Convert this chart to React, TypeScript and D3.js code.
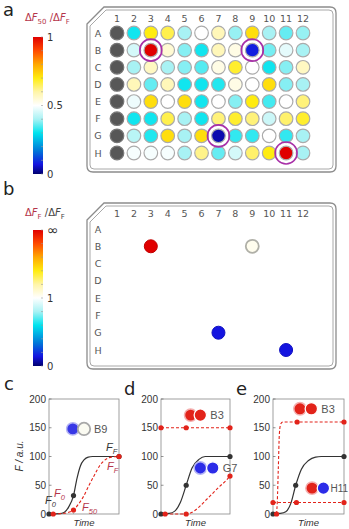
import React from 'react';
import * as d3 from 'd3';

// ---------------- DATA ----------------
const ROWS = ['A', 'B', 'C', 'D', 'E', 'F', 'G', 'H'];
const COLS = ['1', '2', '3', '4', '5', '6', '7', '8', '9', '10', '11', '12'];

// ΔF50/ΔFF per well (col 1 = control, null)
const rowA = [null, 0.31, 0.7, 0.66, 0.4, 0.5, 0.58, 0.39, 0.72, 0.4, 0.36, 0.39];
const rowB = [null, 0.45, 1.0, 0.55, 0.38, 0.31, 0.58, 0.53, 0.08, 0.37, 0.47, 0.4];
const rowC = [null, 0.4, 0.57, 0.4, 0.38, 0.35, 0.53, 0.68, 0.5, 0.31, 0.38, 0.57];
const rowD = [null, 0.58, 0.36, 0.58, 0.31, 0.31, 0.32, 0.53, 0.5, 0.72, 0.38, 0.4];
const rowE = [null, 0.48, 0.72, 0.5, 0.72, 0.31, 0.5, 0.38, 0.7, 0.34, 0.5, 0.63];
const rowF = [null, 0.31, 0.31, 0.66, 0.4, 0.31, 0.63, 0.68, 0.63, 0.44, 0.64, 0.68];
const rowG = [null, 0.42, 0.32, 0.72, 0.4, 0.72, 0.04, 0.33, 0.33, 0.5, 0.33, 0.4];
const rowH = [null, 0.49, 0.49, 0.49, 0.4, 0.62, 0.36, 0.45, 0.64, 0.7, 1.0, 0.4];
const plateA = [rowA, rowB, rowC, rowD, rowE, rowF, rowG, rowH];

const ringWells = ['B3', 'B9', 'G7', 'H11'];
const plateBWells = ['B3', 'B9', 'G7', 'H11'];
const plateBValues = [1.0, 0.52, 0.07, 0.07]; // position on ΔFF/ΔFF bar

const cmapPos = [0, 0.07, 0.17, 0.3, 0.4, 0.5, 0.6, 0.7, 0.8, 0.9, 1];
const cmapCol = ['#00006e', '#1414e0', '#0078d8', '#00e4ee', '#a8f2f4', '#ffffff', '#fff5a8', '#ffec10', '#ffa800', '#ff4a00', '#e00000'];

const barATickPos = [0, 0.5, 1];
const barATickLabels = ['0', '0.5', '1'];
const barBTickPos = [0, 0.5, 1];
const barBTickLabels = ['0', '1', '∞'];

const yTickValues = [0, 50, 100, 150, 200];

// panel c
const cBlackT = [0, 0.15, 0.22, 0.28, 0.35, 0.4, 0.45, 0.5, 0.56, 0.62, 1];
const cBlackF = [0, 0.5, 3, 12, 32, 62, 84, 94, 99, 100, 100];
const cRedT = [0.06, 0.2, 0.28, 0.35, 0.42, 0.5, 0.56, 0.65, 0.73, 0.81, 0.9, 1];
const cRedF = [0, 1, 3, 7, 17, 32, 47, 68, 85, 95, 99, 100];
const cBlackDotT = [0, 0.35, 1];
const cBlackDotF = [0, 32, 100];
const cRedDotT = [0.06, 0.35, 1];
const cRedDotF = [0, 7, 100];

// panel d
const dBlackT = [0, 0.12, 0.2, 0.28, 0.365, 0.45, 0.55, 0.64, 1];
const dBlackF = [0, 1, 5, 20, 50, 80, 95, 100, 100];
const dRedT = [0.06, 0.365, 0.45, 0.55, 0.65, 0.75, 0.85, 0.95, 1];
const dRedF = [0, 0, 3, 12, 24, 36, 48, 59, 66];
const dRedFlatT = [0, 1];
const dRedFlatF = [150, 150];
const dBlackDotT = [0, 0.365, 1];
const dBlackDotF = [0, 50, 100];
const dRedDotT = [0.06, 0.365, 1, 0, 0.365, 1];
const dRedDotF = [0, 0, 66, 150, 150, 150];

// panel e
const eBlackT = [0, 0.1, 0.18, 0.25, 0.32, 0.4, 0.5, 0.6, 0.68, 1];
const eBlackF = [0, 1, 4, 18, 50, 78, 93, 99, 100, 100];
const eRedT = [0.05, 0.06, 0.075, 0.09, 0.11, 0.14, 0.34, 1];
const eRedF = [0, 20, 80, 140, 157, 160, 160, 160];
const eRedFlatT = [0, 1];
const eRedFlatF = [20, 20];
const eBlackDotT = [0, 0.32, 1];
const eBlackDotF = [0, 50, 100];
const eRedDotT = [0.05, 0.34, 1, 0, 0.33, 1];
const eRedDotF = [0, 160, 160, 20, 20, 20];

// ---------------- HELPERS ----------------
const cmap = d3.scaleLinear<string>().domain(cmapPos).range(cmapCol).interpolate(d3.interpolateRgb);
const zip = (a: number[], b: number[]) => a.map((v, i) => [v, b[i]] as [number, number]);

function framePath(x0: number, y0: number, x1: number, y1: number, ch: number, r: number) {
  return `M${x0},${y0 + ch} L${x0 + ch},${y0} L${x1 - r},${y0} Q${x1},${y0} ${x1},${y0 + r} L${x1},${y1 - r} Q${x1},${y1} ${x1 - r},${y1} L${x0 + r},${y1} Q${x0},${y1} ${x0},${y1 - r} Z`;
}

const RED = '#e2231a';
const DARK = '#333';
const LBL = '#b5354a';
const SANS = 'Liberation Sans, Arial, sans-serif';
const DJV = 'DejaVu Sans, Verdana, sans-serif';

function Frame({ x0, y0, x1, y1 }: any) {
  return (
    <g fill="none">
      <path d={framePath(x0, y0, x1, y1, 17, 6)} stroke="#8c8c8c" strokeWidth={1.3} />
      <path d={framePath(x0 + 3, y0 + 3, x1 - 3, y1 - 3, 16, 4)} stroke="#a8a8a8" strokeWidth={1} />
    </g>
  );
}

function PlateLabels({ xs, ys, colY }: any) {
  return (
    <g fontFamily={DJV} fontSize={9.5} fill="#555">
      {COLS.map((c) => (
        <text key={c} x={xs(c)} y={colY} textAnchor="middle" dominantBaseline="central">{c}</text>
      ))}
      {ROWS.map((r) => (
        <text key={r} x={98} y={ys(r)} textAnchor="middle" dominantBaseline="central">{r}</text>
      ))}
    </g>
  );
}

function ColorBar({ id, y0, y1, tickPos, tickLabels }: any) {
  const ys = d3.scaleLinear().domain([0, 1]).range([y1, y0]);
  const minor = d3.range(0, 1.0001, 0.1);
  return (
    <g>
      <defs>
        <linearGradient id={id} x1="0" y1="1" x2="0" y2="0">
          {cmapPos.map((p, i) => (
            <stop key={i} offset={p} stopColor={cmapCol[i]} />
          ))}
        </linearGradient>
      </defs>
      <rect x={33} y={y0} width={10} height={y1 - y0} fill={`url(#${id})`} />
      {minor.map((m, i) => (
        <line key={i} x1={41} x2={43} y1={ys(m)} y2={ys(m)} stroke="#999" strokeWidth={0.6} />
      ))}
      {tickPos.map((p: number, i: number) => (
        <text key={i} x={47} y={ys(p)} fontFamily={DJV} fontSize={tickLabels[i] === '∞' ? 14 : 10} fill="#333" dominantBaseline="central">{tickLabels[i]}</text>
      ))}
    </g>
  );
}

function LegendPair({ xs, ys, t1, t2, f, c1, c2, label, white, fs = 11, gap = 10 }: any) {
  const r = 6.2;
  return (
    <g>
      <circle cx={xs(t1)} cy={ys(f)} r={r} fill={c1} stroke={c1 === RED ? '#f4b0b0' : '#b4b4f4'} strokeWidth={1.5} />
      {white ? (
        <circle cx={xs(t2)} cy={ys(f)} r={r} fill="#fbfbf2" stroke="#a8a8a8" strokeWidth={1.8} />
      ) : (
        <circle cx={xs(t2)} cy={ys(f)} r={r} fill={c2} stroke="#fff" strokeWidth={1.3} />
      )}
      <text x={xs(t2) + gap} y={ys(f)} fontFamily={SANS} fontSize={fs} fill="#555" dominantBaseline="central">{label}</text>
    </g>
  );
}

function Panel({ left, width, children, yLabel }: any) {
  const ys = d3.scaleLinear().domain([0, 200]).range([514, 399]);
  const xs = d3.scaleLinear().domain([0, 1]).range([left, left + width]);
  return (
    <g>
      <rect x={left} y={399} width={width} height={115} fill="#fff" stroke="#888" strokeWidth={0.8} />
      {yTickValues.map((v) => (
        <g key={v}>
          <line x1={left} x2={left + 2.5} y1={ys(v)} y2={ys(v)} stroke="#666" strokeWidth={0.7} />
          <text x={left - 3} y={ys(v)} textAnchor="end" dominantBaseline="central" fontFamily={SANS} fontSize={10} fill="#333">{v}</text>
        </g>
      ))}
      <text x={left + width / 2} y={526} textAnchor="middle" fontFamily={SANS} fontStyle="italic" fontSize={9.5} fill="#333">Time</text>
      {yLabel && (
        <text transform={`translate(23,456) rotate(-90)`} textAnchor="middle" fontFamily={SANS} fontStyle="italic" fontSize={10} fill="#333">F / a.u.</text>
      )}
      {children(xs, ys)}
    </g>
  );
}

function Curves({ xs, ys, black, reds, bdT, bdF, rdT, rdF }: any) {
  const line = d3.line<[number, number]>().x((d) => xs(d[0])).y((d) => ys(d[1])).curve(d3.curveMonotoneX);
  return (
    <g>
      <path d={line(black) || ''} fill="none" stroke={DARK} strokeWidth={1.2} />
      {reds.map((r: [number, number][], i: number) => (
        <path key={i} d={line(r) || ''} fill="none" stroke={RED} strokeWidth={1.1} strokeDasharray="3,2" />
      ))}
      {bdT.map((t: number, i: number) => (
        <circle key={'b' + i} cx={xs(t)} cy={ys(bdF[i])} r={2.6} fill={DARK} />
      ))}
      {rdT.map((t: number, i: number) => (
        <circle key={'r' + i} cx={xs(t)} cy={ys(rdF[i])} r={2.6} fill={RED} />
      ))}
    </g>
  );
}

function Sub({ x, y, main, sub, color, subSize = 7.5 }: any) {
  return (
    <text x={x} y={y} fontFamily={SANS} fontStyle="italic" fontSize={11} fill={color}>
      {main}
      <tspan fontSize={subSize} dy={3}>{sub}</tspan>
    </text>
  );
}

export default function App() {
  const xs = d3.scalePoint<string>().domain(COLS).range([117, 303]);
  const ysA = d3.scalePoint<string>().domain(ROWS).range([33, 153]);
  const ysB = d3.scalePoint<string>().domain(ROWS).range([229, 350]);
  const parse = (w: string) => [w[0], w.slice(1)];

  return (
    <svg width={349} height={529} style={{ position: 'absolute', left: 0, top: 0, background: '#fff' }}>
      <rect width={349} height={529} fill="#fff" />
      {/* panel letters */}
      <g fontFamily={DJV} fontSize={18} fill="#222">
        <text x={3} y={16}>a</text>
        <text x={3} y={195}>b</text>
        <text x={4} y={390}>c</text>
        <text x={124} y={395}>d</text>
        <text x={236} y={395}>e</text>
      </g>

      {/* ---- a ---- */}
      <text x={25} y={21} fontFamily={DJV} fontSize={10} fill={LBL}>
        Δ<tspan fontStyle="italic">F</tspan><tspan fontSize={7} dy={2.5}>50</tspan><tspan dy={-2.5}> /Δ</tspan><tspan fontStyle="italic">F</tspan><tspan fontSize={7} dy={2.5}>F</tspan>
      </text>
      <ColorBar id="cbA" y0={37} y1={174} tickPos={barATickPos} tickLabels={barATickLabels} />
      <Frame x0={87} y0={7} x1={336} y1={172} />
      <PlateLabels xs={xs} ys={ysA} colY={18} />
      {plateA.map((row, ri) =>
        row.map((v, ci) => (
          <circle
            key={ri + '-' + ci}
            cx={xs(COLS[ci])}
            cy={ysA(ROWS[ri])}
            r={6.8}
            fill={v === null ? '#575757' : cmap(v)}
            stroke={v === null ? '#777' : '#ababab'}
            strokeWidth={1.2}
          />
        ))
      )}
      {ringWells.map((w) => {
        const [r, c] = parse(w);
        return <circle key={w} cx={xs(c)} cy={ysA(r)} r={11} fill="none" stroke="#a830a8" strokeWidth={1.6} />;
      })}

      {/* ---- b ---- */}
      <text x={25} y={216} fontFamily={DJV} fontSize={10}>
        <tspan fill={LBL}>Δ</tspan><tspan fill={LBL} fontStyle="italic">F</tspan><tspan fill={LBL} fontSize={7} dy={2.5}>F</tspan>
        <tspan fill="#444" dy={-2.5}> /Δ</tspan><tspan fill="#444" fontStyle="italic">F</tspan><tspan fill="#444" fontSize={7} dy={2.5}>F</tspan>
      </text>
      <ColorBar id="cbB" y0={230} y1={366} tickPos={barBTickPos} tickLabels={barBTickLabels} />
      <Frame x0={87} y0={203} x1={336} y1={369} />
      <PlateLabels xs={xs} ys={ysB} colY={213} />
      {plateBWells.map((w, i) => {
        const [r, c] = parse(w);
        const v = plateBValues[i];
        const isWhite = v > 0.4 && v < 0.6;
        return (
          <circle key={w} cx={xs(c)} cy={ysB(r)} r={6.5} fill={cmap(v)} stroke={isWhite ? '#b0b0a8' : d3.color(cmap(v))!.darker(0.4).toString()} strokeWidth={isWhite ? 1.8 : 1} />
        );
      })}

      {/* ---- c ---- */}
      <Panel left={49} width={70} yLabel>
        {(px: any, py: any) => (
          <g>
            <line x1={px(0.35)} x2={px(0.35)} y1={py(7)} y2={py(0)} stroke="#999" strokeWidth={0.8} strokeDasharray="1.5,1" />
            <Curves xs={px} ys={py} black={zip(cBlackT, cBlackF)} reds={[zip(cRedT, cRedF)]} bdT={cBlackDotT} bdF={cBlackDotF} rdT={cRedDotT} rdF={cRedDotF} />
            <LegendPair xs={px} ys={py} t1={0.34} t2={0.5} f={148} c1="#3838e6" label="B9" white />
            <Sub x={106} y={451} main="F" sub="F" color={DARK} />
            <Sub x={107} y={470} main="F" sub="F" color={LBL} />
            <Sub x={54} y={497} main="F" sub="0" color={LBL} />
            <Sub x={45} y={504} main="F" sub="0" color={DARK} />
            <Sub x={82} y={511} main="F" sub="50" color={LBL} />
          </g>
        )}
      </Panel>

      {/* ---- d ---- */}
      <Panel left={161} width={69}>
        {(px: any, py: any) => (
          <g>
            <Curves xs={px} ys={py} black={zip(dBlackT, dBlackF)} reds={[zip(dRedT, dRedF), zip(dRedFlatT, dRedFlatF)]} bdT={dBlackDotT} bdF={dBlackDotF} rdT={dRedDotT} rdF={dRedDotF} />
            <LegendPair xs={px} ys={py} t1={0.43} t2={0.57} f={172} c1={RED} c2={RED} label="B3" />
            <LegendPair xs={px} ys={py} t1={0.57} t2={0.75} f={80} c1="#2c2ce8" c2="#2c2ce8" label="G7" />
          </g>
        )}
      </Panel>

      {/* ---- e ---- */}
      <Panel left={273} width={71}>
        {(px: any, py: any) => (
          <g>
            <Curves xs={px} ys={py} black={zip(eBlackT, eBlackF)} reds={[zip(eRedT, eRedF), zip(eRedFlatT, eRedFlatF)]} bdT={eBlackDotT} bdF={eBlackDotF} rdT={eRedDotT} rdF={eRedDotF} />
            <LegendPair xs={px} ys={py} t1={0.38} t2={0.54} f={183} c1={RED} c2={RED} label="B3" />
            <LegendPair xs={px} ys={py} t1={0.55} t2={0.71} f={45} c1={RED} c2="#2c2ce8" label="H11" fs={10} gap={7} />
          </g>
        )}
      </Panel>
    </svg>
  );
}
